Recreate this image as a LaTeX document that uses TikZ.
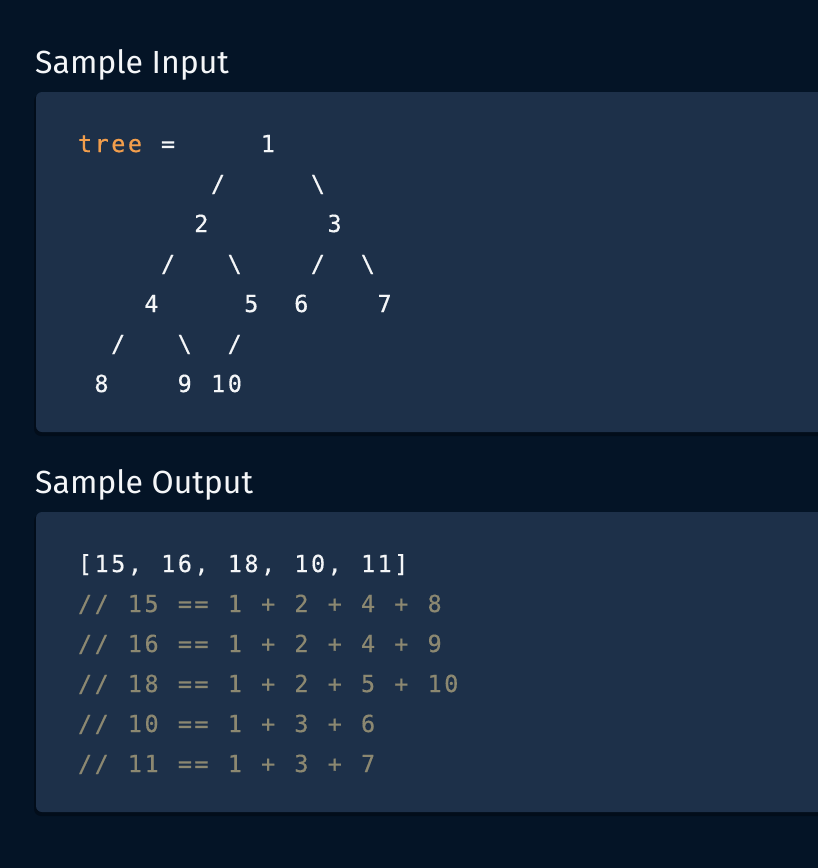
\documentclass[tikz,border=0pt]{standalone}
\usepackage{fontspec}
\setmainfont{Fira Sans}
\newfontfamily\codefont[FakeBold=0.4]{DejaVu Sans Mono}
\definecolor{bg}{HTML}{041426}
\definecolor{shadowc}{HTML}{020D1A}
\definecolor{panel}{HTML}{1D3049}
\definecolor{orangec}{HTML}{F29E4C}
\definecolor{commentc}{HTML}{8C8871}
\definecolor{textc}{HTML}{F4F6F8}
\newlength\cw \setlength\cw{16.65pt}
\ExplSyntaxOn
\NewDocumentCommand\monoline{m}{\str_map_inline:nn{#1}{\makebox[\cw][c]{##1}}}
\ExplSyntaxOff
\begin{document}
\begin{tikzpicture}[x=1pt,y=-1pt,
  heading/.style={anchor=base west,inner sep=0pt,text=textc,font=\fontsize{32}{38}\selectfont},
  code/.style={anchor=base west,inner sep=0pt,text=textc,font=\codefont\fontsize{23.5}{28}\selectfont},
  cell/.style={anchor=base,inner sep=0pt,text=textc,font=\codefont\fontsize{23.5}{28}\selectfont},
  comment/.style={code,text=commentc},
  panelbox/.style={fill=panel,rounded corners=6pt},
  shadowbox/.style={fill=shadowc,rounded corners=7pt}]
\fill[bg] (0,0) rectangle (818,868);
\useasboundingbox (0,0) rectangle (818,868);
% panels
\fill[shadowbox] (34,94) rectangle (830,436);
\fill[panelbox] (36,92) rectangle (830,432);
\fill[shadowbox] (34,514) rectangle (830,816);
\fill[panelbox] (36,512) rectangle (830,812);
% headings
\node[heading] (h1) at (35,73) {Sample Input};
\node[heading] (h2) at (35,493) {Sample Output};
% tree
\def\xo{76.5}
\def\cx#1{\xo+#1*16.65+8.325}
\def\ry#1{152+#1*40}
\node[code,text=orangec] (tree) at (\xo,\ry{0}) {\monoline{tree}};
\node[cell] (eq) at ({\cx{5}},\ry{0}) {=};
\node[cell] (n1) at ({\cx{11}},\ry{0}) {1};
\node[cell] (s12) at ({\cx{8}},\ry{1}) {/};
\node[cell] (s13) at ({\cx{14}},\ry{1}) {\textbackslash};
\node[cell] (n2) at ({\cx{7}},\ry{2}) {2};
\node[cell] (n3) at ({\cx{15}},\ry{2}) {3};
\node[cell] (s24) at ({\cx{5}},\ry{3}) {/};
\node[cell] (s25) at ({\cx{9}},\ry{3}) {\textbackslash};
\node[cell] (s36) at ({\cx{14}},\ry{3}) {/};
\node[cell] (s37) at ({\cx{17}},\ry{3}) {\textbackslash};
\node[cell] (n4) at ({\cx{4}},\ry{4}) {4};
\node[cell] (n5) at ({\cx{10}},\ry{4}) {5};
\node[cell] (n6) at ({\cx{13}},\ry{4}) {6};
\node[cell] (n7) at ({\cx{18}},\ry{4}) {7};
\node[cell] (s48) at ({\cx{2}},\ry{5}) {/};
\node[cell] (s49) at ({\cx{6}},\ry{5}) {\textbackslash};
\node[cell] (s510) at ({\cx{9}},\ry{5}) {/};
\node[cell] (n8) at ({\cx{1}},\ry{6}) {8};
\node[cell] (n9) at ({\cx{6}},\ry{6}) {9};
\node[code] (n10) at (\xo+8*16.65,\ry{6}) {\monoline{10}};
% output
\node[code] (out) at (\xo,572) {\monoline{[15, 16, 18, 10, 11]}};
\node[comment] (c1) at (\xo,612) {\monoline{// 15 == 1 + 2 + 4 + 8}};
\node[comment] (c2) at (\xo,652) {\monoline{// 16 == 1 + 2 + 4 + 9}};
\node[comment] (c3) at (\xo,692) {\monoline{// 18 == 1 + 2 + 5 + 10}};
\node[comment] (c4) at (\xo,732) {\monoline{// 10 == 1 + 3 + 6}};
\node[comment] (c5) at (\xo,772) {\monoline{// 11 == 1 + 3 + 7}};
\end{tikzpicture}
\end{document}
